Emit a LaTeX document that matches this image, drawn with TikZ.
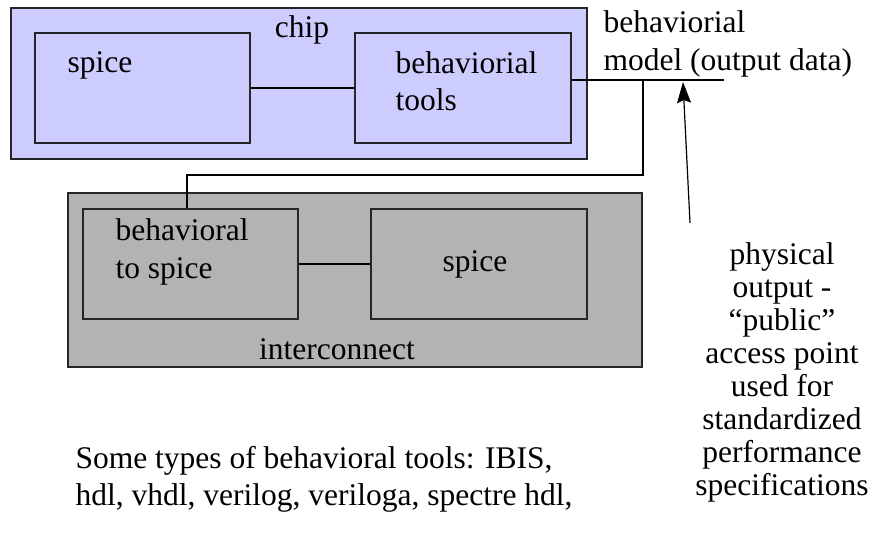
\documentclass[tikz,border=0pt]{standalone}
\usepackage{fontspec}
\setmainfont{Liberation Serif}
\usepackage{tikz}
\usetikzlibrary{arrows.meta,positioning,calc}
\definecolor{chipblue}{RGB}{204,204,255}
\definecolor{wiregray}{RGB}{179,179,179}

\begin{document}
\begin{tikzpicture}[line width=1.2pt,
  every node/.style={inner sep=0pt, font=\fontsize{31.5}{37.5}\selectfont},
  post/.style={-{Stealth[length=21pt,width=14pt,inset=3pt]}}]
			
				\useasboundingbox (0pt,0pt) rectangle (872pt,541pt);
				
				% chip
				\node [draw=black!85, fill=chipblue, minimum width=576pt, minimum height=151pt] (chip) at (299pt,457.5pt) {};
				\node [draw=black!85, fill=chipblue, minimum width=215pt, minimum height=110pt] (spiceA) at (142.5pt,453pt) {};
				\node [draw=black!85, fill=chipblue, minimum width=216pt, minimum height=110pt] (toolsA)
					[right of=spiceA, node distance=320.5pt] {};
				
				% interconnect
				\node [draw=black!85, fill=wiregray, minimum width=574pt, minimum height=174pt] (inter) at (355pt,261pt) {};
				\node [draw=black!85, fill=wiregray, minimum width=215pt, minimum height=110pt] (b2s) at (190.5pt,277pt) {};
				\node [draw=black!85, fill=wiregray, minimum width=216pt, minimum height=110pt] (spiceB)
					[right of=b2s, node distance=288.5pt] {};
				
				% labels
				\node [anchor=base] (chipText) at (302pt,503pt) {chip};
				\node [anchor=base west] (spiceAText) at (67pt,468.5pt) {spice};
				\node [anchor=north west, align=left] (toolsText) at (395pt,490pt) {behaviorial\\tools};
				\node [anchor=north west, align=left] (outText) at (603pt,530.5pt) {behaviorial\\model (output data)};
				\node [anchor=north west, align=left] (b2sText) at (115pt,322.5pt) {behavioral\\to spice};
				\node [anchor=base] (spiceBText) at (475pt,269pt) {spice};
				\node [anchor=base] (interText) at (337pt,182pt) {interconnect};
				\node [anchor=north, align=center, font=\fontsize{31.5}{33}\selectfont] (physText) at (782pt,299pt)
					{physical\\output -\\``public''\\access point\\used for\\standardized\\performance\\specifications};
				\node [anchor=north west, align=left] (toolsNote) at (75pt,95.5pt)
					{Some types of behavioral tools: IBIS,\\hdl, vhdl, verilog, veriloga, spectre hdl,};
				
				% wires
				\coordinate (tap) at (643pt,461pt);
				\coordinate (outEnd) at (724pt,461pt);
				\coordinate (arrowTail) at (690pt,318pt);
				\coordinate (arrowTip) at (683pt,459pt);
				
				\draw (spiceA) -- (toolsA);
				\draw (b2s) -- (spiceB);
				\draw ([yshift=8pt]toolsA.east) -- (outEnd);
				\draw (tap) -- ++(0pt,-95pt) -| ([xshift=-3.5pt]b2s.north);
				\draw[post] (arrowTail) -- (arrowTip);
				
			\end{tikzpicture}
\end{document}
